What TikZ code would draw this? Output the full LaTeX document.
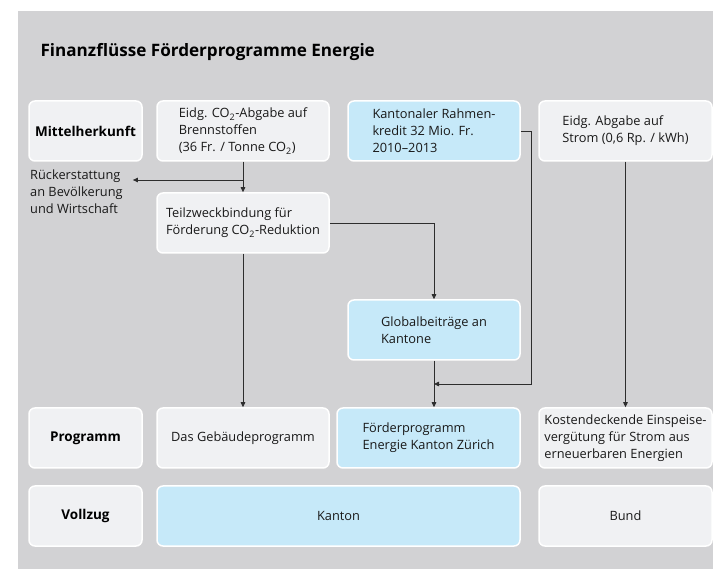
\documentclass[tikz,border=0pt]{standalone}
\usepackage{fontspec}
\setmainfont{Open Sans}
\usetikzlibrary{arrows.meta,calc}
\definecolor{panelgray}{RGB}{210,210,212}
\definecolor{boxgray}{RGB}{240,241,243}
\definecolor{boxblue}{RGB}{198,233,249}
\definecolor{linegray}{RGB}{45,45,45}
\newcommand{\cotwo}{CO\textsubscript{2}}

\begin{document}
\begin{tikzpicture}[x=1pt,y=-1pt,
    box/.style={draw=white, line width=1.5pt, rounded corners=6pt, fill=boxgray,
        minimum height=60pt, align=left, inner sep=2pt,
        font=\fontsize{12.8}{17}\selectfont, text=black!90},
    bluebox/.style={box, fill=boxblue},
    rowlabel/.style={box, minimum width=113pt, align=center,
        font=\fontsize{13.5}{17}\selectfont\bfseries, text=black},
    flow/.style={draw=linegray, line width=0.8pt, -{Triangle[length=5pt,width=4.5pt]}}
]
    \useasboundingbox (0,0) rectangle (713,569);
    % Panel
    \fill[panelgray] (18,11) rectangle (713,569);
    \node[anchor=base west, font=\fontsize{17.1}{21}\selectfont\bfseries] (title) at (37,57) {Finanzflüsse Förderprogramme Energie};

    % Mittelherkunft
    \node[rowlabel] (herkunft) at (85.5,131) {Mittelherkunft};
    \node[box, minimum width=172pt] (co2) at (243,131) {Eidg. \cotwo-Abgabe auf\\Brennstoffen\\(36 Fr. / Tonne \cotwo)};
    \node[bluebox, minimum width=172pt] (kredit) at (434,131) {Kantonaler Rahmen-\\kredit 32 Mio. Fr.\\2010--2013};
    \node[box, minimum width=173pt] (strom) at (625.5,131) {Eidg. Abgabe auf\\Strom (0,6 Rp. / kWh)};
    \node[anchor=north west, align=left, inner sep=0pt,
        font=\fontsize{12.8}{17}\selectfont, text=black!90] (rueck) at (30,170) {Rückerstattung\\an Bevölkerung\\und Wirtschaft};

    % Zwischenstufen
    \node[box, minimum width=172pt] (teil) at (243,223) {Teilzweckbindung für\\Förderung \cotwo-Reduktion};
    \node[bluebox, minimum width=172pt] (global) at (434,330) {Globalbeiträge an\\Kantone};

    % Programm
    \node[rowlabel] (programm) at (85.5,438) {Programm};
    \node[box, minimum width=172pt] (geb) at (243,438) {Das Gebäudeprogramm};
    \node[bluebox, minimum width=183pt] (foerder) at (428.5,438) {Förderprogramm\\Energie Kanton Zürich};
    \node[box, minimum width=173pt] (kev) at (625.5,438) {Kostendeckende Einspeise-\\vergütung für Strom aus\\erneuerbaren Energien};

    % Vollzug
    \node[rowlabel] (vollzug) at (85.5,516) {Vollzug};
    \node[bluebox, minimum width=363pt, align=center] (kanton) at (338.5,516) {Kanton};
    \node[box, minimum width=173pt, align=center] (bund) at (625.5,516) {Bund};

    % Flows
    \coordinate (split) at (co2.south |- 0,180);
    \coordinate (join) at ($(global.south)!0.5!(global.south |- foerder.north)$);
    \draw[flow] (co2.south) -- (teil.north);
    \draw[flow] (split) -- ([xshift=10pt]split -| rueck.east);
    \draw[flow] (teil.east) -| (global.north);
    \draw[flow] (teil.south) -- (geb.north);
    \draw[flow] (kredit.east) -- ++(11,0) |- (join);
    \draw[flow] (global.south) -- (global.south |- foerder.north);
    \draw[flow] (strom.south) -- (kev.north);
\end{tikzpicture}
\end{document}
